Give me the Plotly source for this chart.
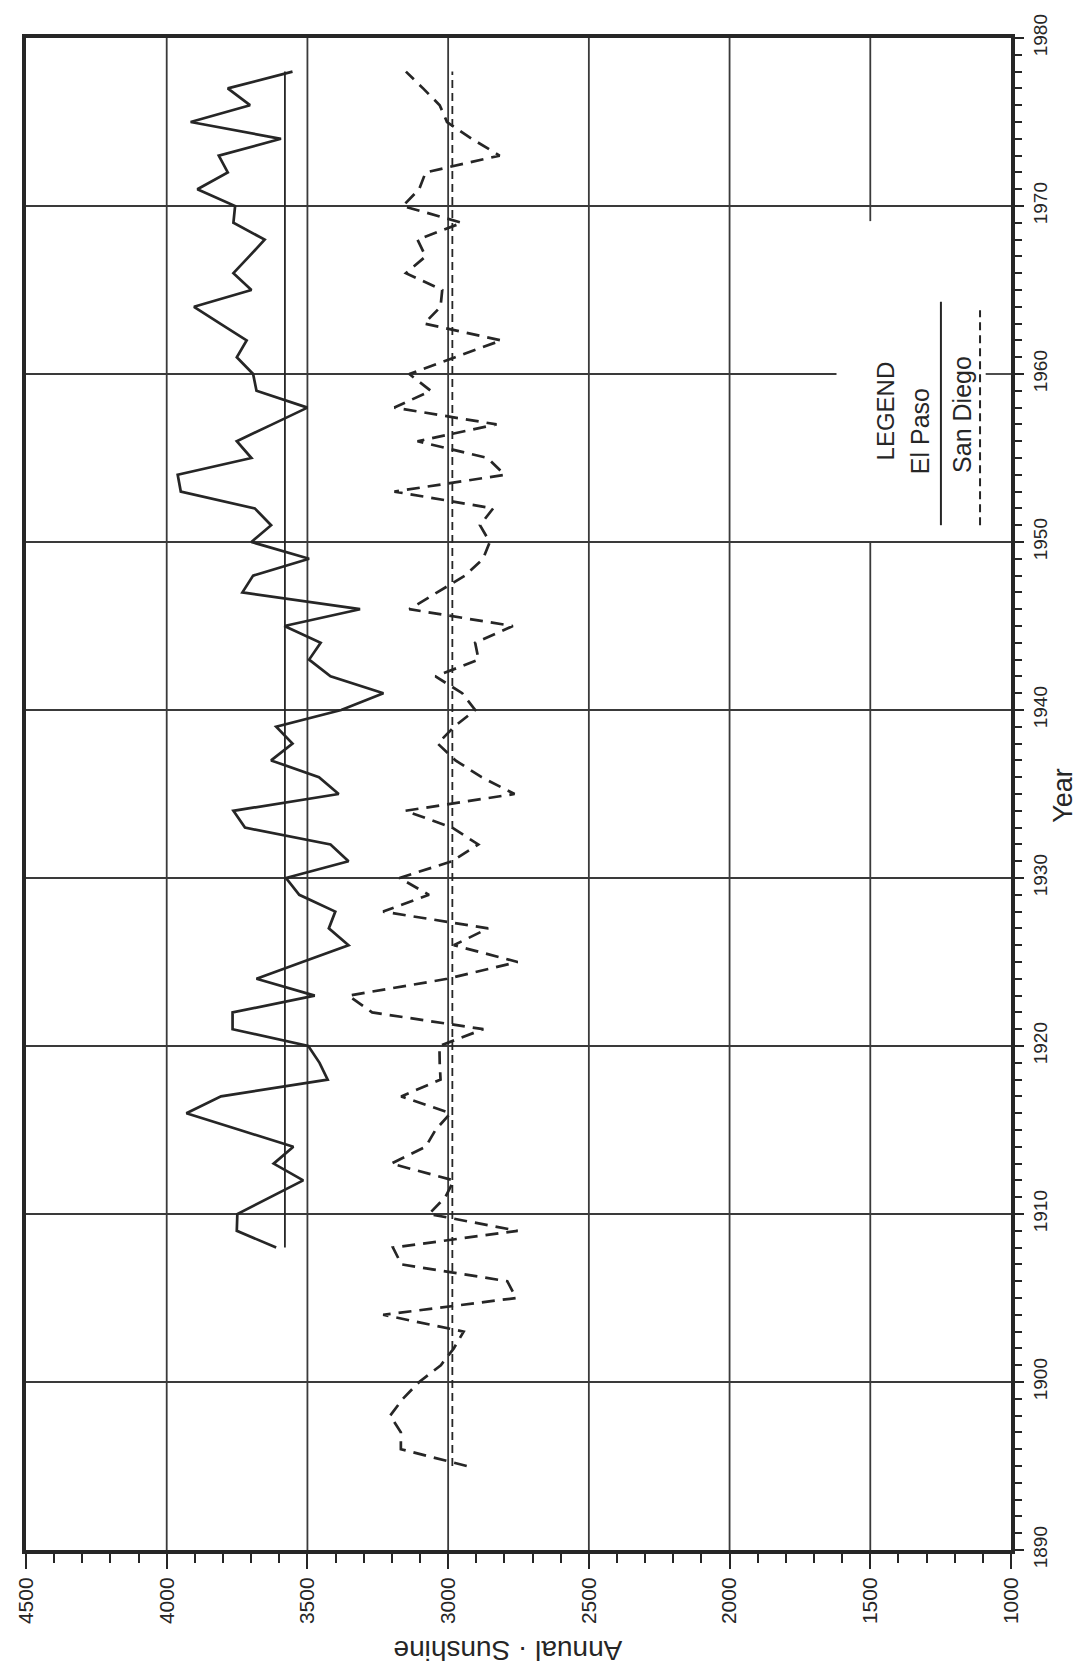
import plotly.graph_objects as go

# ---------------- data ----------------
years_el_paso = list(range(1908, 1979))
el_paso = [3611, 3751, 3749, 3632, 3515, 3620, 3550, 3740, 3930, 3807,
           3428, 3457, 3497, 3766, 3766, 3474, 3681, 3518, 3354, 3424,
           3401, 3529, 3576, 3354, 3418, 3722, 3763, 3389, 3459, 3629,
           3553, 3611, 3380, 3230, 3418, 3494, 3453, 3582, 3313, 3731,
           3693, 3494, 3699, 3629, 3687, 3950, 3961, 3699, 3751, 3625,
           3500, 3681, 3693, 3751, 3716, 3810, 3903, 3699, 3763, 3707,
           3652, 3763, 3757, 3891, 3783, 3815, 3594, 3915, 3704, 3783,
           3553]

years_san_diego = list(range(1895, 1979))
san_diego = [2934, 3168, 3168, 3206, 3161, 3103, 3026, 2980, 2945, 3231,
             2758, 2790, 3166, 3196, 2753, 3068, 3010, 2980, 3202, 3080,
             3045, 2992, 3167, 3027, 3030, 3031, 2875, 3270, 3354, 3003,
             2753, 2980, 2858, 3231, 3068, 3173, 2986, 2893, 2986, 3152,
             2764, 2881, 2974, 3037, 2979, 2904, 2950, 3045, 2892, 2904,
             2770, 3138, 3039, 2940, 2876, 2852, 2887, 2840, 3191, 2799,
             2860, 3109, 2828, 3191, 3062, 3138, 2975, 2811, 3085, 3027,
             3021, 3150, 3080, 3109, 2951, 3161, 3103, 3080, 2817, 2916,
             3004, 3030, 3089, 3150]

el_paso_mean = 3580
san_diego_mean = 2985

sunshine_ticks = [4500, 4000, 3500, 3000, 2500, 2000, 1500, 1000]
year_ticks = [1890, 1900, 1910, 1920, 1930, 1940, 1950, 1960, 1970, 1980]

# ---------------- styling ----------------
INK = "#262626"
GRID = "#3a3a3a"
FONT = "Liberation Sans, Arial, sans-serif"

fig = go.Figure()

# data lines
fig.add_trace(go.Scatter(x=el_paso, y=years_el_paso, mode="lines",
                         line=dict(color=INK, width=2.7), showlegend=False))
fig.add_trace(go.Scatter(x=san_diego, y=years_san_diego, mode="lines",
                         line=dict(color=INK, width=2.7, dash="13px,8px"),
                         showlegend=False))
# mean lines
fig.add_trace(go.Scatter(x=[el_paso_mean, el_paso_mean],
                         y=[years_el_paso[0], years_el_paso[-1]], mode="lines",
                         line=dict(color=INK, width=1.8), showlegend=False))
fig.add_trace(go.Scatter(x=[san_diego_mean, san_diego_mean],
                         y=[years_san_diego[0], years_san_diego[-1]], mode="lines",
                         line=dict(color=INK, width=1.8, dash="8px,5px"),
                         showlegend=False))

# grid lines
shapes = []
for v in [4000, 3500, 3000, 2500, 2000]:
    shapes.append(dict(type="line", xref="x", yref="y", x0=v, x1=v, y0=1890, y1=1980,
                       line=dict(color=GRID, width=1.8), layer="below"))
for (a, b) in [(1890, 1950), (1969.1, 1980)]:
    shapes.append(dict(type="line", xref="x", yref="y", x0=1500, x1=1500, y0=a, y1=b,
                       line=dict(color=GRID, width=1.8), layer="below"))
for y in [1900, 1910, 1920, 1930, 1940, 1950, 1970]:
    shapes.append(dict(type="line", xref="x", yref="y", x0=4500, x1=1000, y0=y, y1=y,
                       line=dict(color=GRID, width=1.8), layer="below"))
shapes.append(dict(type="line", xref="x", yref="y", x0=4500, x1=1620, y0=1960, y1=1960,
                   line=dict(color=GRID, width=1.8), layer="below"))
shapes.append(dict(type="line", xref="x", yref="y", x0=1090, x1=1000, y0=1960, y1=1960,
                   line=dict(color=GRID, width=1.8), layer="below"))
# legend samples
shapes.append(dict(type="line", xref="x", yref="y", x0=1249, x1=1249, y0=1951.0, y1=1964.3,
                   line=dict(color=INK, width=2)))
shapes.append(dict(type="line", xref="x", yref="y", x0=1110, x1=1110, y0=1951.0, y1=1963.8,
                   line=dict(color=INK, width=2, dash="8px,5px")))

annotations = [
    dict(text="LEGEND", x=1446, y=1957.8, xref="x", yref="y", showarrow=False,
         textangle=-90, font=dict(family=FONT, size=24, color=INK)),
    dict(text="El Paso", x=1323, y=1956.6, xref="x", yref="y", showarrow=False,
         textangle=-90, font=dict(family=FONT, size=25, color=INK)),
    dict(text="San Diego", x=1172, y=1957.6, xref="x", yref="y", showarrow=False,
         textangle=-90, font=dict(family=FONT, size=25, color=INK)),
    dict(text="Annual · Sunshine", x=0.489, y=-0.066, xref="paper", yref="paper",
         showarrow=False, textangle=180, xanchor="center", yanchor="middle",
         font=dict(family=FONT, size=28, color=INK)),
    dict(text="Year", x=1.052, y=0.499, xref="paper", yref="paper",
         showarrow=False, textangle=-90, xanchor="center", yanchor="middle",
         font=dict(family=FONT, size=27, color=INK)),
]

fig.update_layout(
    width=1083, height=1670,
    margin=dict(l=18, r=80, t=30, b=128),
    paper_bgcolor="white", plot_bgcolor="white",
    shapes=shapes, annotations=annotations,
    showlegend=False,
    xaxis=dict(range=[4500, 1000], tickmode="array", tickvals=sunshine_ticks,
               ticktext=[str(t) for t in sunshine_ticks], automargin=False,
               ticks="outside", ticklen=15, tickwidth=2, tickcolor=INK,
               tickangle=-90, tickfont=dict(family=FONT, size=21, color=INK),
               showgrid=False, zeroline=False, showline=True, linewidth=4,
               linecolor=INK, mirror=True,
               minor=dict(tick0=1000, dtick=100, ticks="outside", ticklen=9,
                          tickwidth=2, tickcolor=INK, showgrid=False)),
    yaxis=dict(range=[1890, 1980], side="right", tickmode="array", tickvals=year_ticks,
               ticktext=[str(t) for t in year_ticks], automargin=False,
               ticks="outside", ticklen=9, tickwidth=2, tickcolor=INK,
               tickangle=-90, tickfont=dict(family=FONT, size=19, color=INK),
               showgrid=False, zeroline=False, showline=True, linewidth=4,
               linecolor=INK, mirror=True,
               minor=dict(tick0=1890, dtick=1, ticks="outside", ticklen=7,
                          tickwidth=2, tickcolor=INK, showgrid=False)),
)

fig.write_html("out.html")
